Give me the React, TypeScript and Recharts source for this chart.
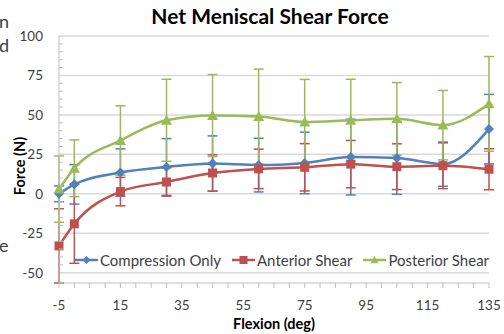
import React from "react";
import { ComposedChart, Line, XAxis, YAxis, CartesianGrid, ErrorBar } from "recharts";

// knee flexion angles (deg) and mean force (N) with SD
const flexion = [-5, 0, 15, 30, 45, 60, 75, 90, 105, 120, 135];
const compression = [0, 6, 13.5, 17, 19.2, 18.2, 19.6, 23.3, 22.7, 18.8, 41];
const compressionErr = [5, 12.5, 15, 18, 17.5, 17, 19.5, 24, 23, 14, 22];
const anterior = [-33, -19, 1.4, 7.5, 13.2, 15.8, 16.8, 18.8, 17.2, 17.8, 15.6];
const anteriorErr = [23.5, 25, 9, 9, 11.5, 12.5, 15, 15, 14.5, 14.5, 13];
const posterior = [3, 16.2, 33.8, 46.6, 49.6, 49, 45.5, 46.6, 47.5, 43.5, 57];
const posteriorErr = [21, 18, 22, 26, 26, 30, 27, 26, 23, 22, 30];

const xMajor = [-5, 15, 35, 55, 75, 95, 115, 135];
const yMajor = [-50, -25, 0, 25, 50, 75, 100];
const minorStep = 5;

const xMinor: number[] = [];
for (let v = xMajor[0]; v <= xMajor[xMajor.length - 1]; v += minorStep) xMinor.push(v);
const yMinor: number[] = [];
for (let v = yMajor[0]; v <= yMajor[yMajor.length - 1]; v += minorStep) yMinor.push(v);

const BLUE = "#4F81BD";
const RED = "#C0504D";
const GREEN = "#9BBB59";
const AXIS = "#bfbfbf";
const FONT = "Lato, 'Open Sans', sans-serif";

const data = flexion.map((x, i) => ({
  x,
  comp: compression[i],
  compErr: compressionErr[i],
  ant: anterior[i],
  antErr: anteriorErr[i],
  post: posterior[i],
  postErr: posteriorErr[i],
}));

const Diamond = ({ cx, cy, fill, size = 5 }: any) =>
  cx == null ? null : (
    <path d={`M${cx},${cy - size}L${cx + size},${cy}L${cx},${cy + size}L${cx - size},${cy}Z`} fill={fill} />
  );
const Square = ({ cx, cy, fill, size = 4.5 }: any) =>
  cx == null ? null : <rect x={cx - size} y={cy - size} width={size * 2} height={size * 2} fill={fill} />;
const Triangle = ({ cx, cy, fill, size = 5.5 }: any) =>
  cx == null ? null : (
    <path d={`M${cx},${cy - size}L${cx + size},${cy + size * 0.8}L${cx - size},${cy + size * 0.8}Z`} fill={fill} />
  );

const XTick = ({ x, y, payload }: any) =>
  xMajor.includes(payload.value) ? (
    <text x={x} y={y} dy="0.71em" textAnchor="middle" fontSize={13.5} fill="#404040" fontFamily={FONT}>
      {payload.value}
    </text>
  ) : (
    <g />
  );

const YTick = ({ x, y, payload }: any) =>
  yMajor.includes(payload.value) ? (
    <text x={x} y={y} dy="0.355em" textAnchor="end" fontSize={13.5} fill="#404040" fontFamily={FONT}>
      {payload.value}
    </text>
  ) : (
    <line x1={x + 16} x2={x + 20} y1={y} y2={y} stroke={AXIS} />
  );

const series = [
  { name: "Compression Only", color: BLUE, Marker: Diamond },
  { name: "Anterior Shear", color: RED, Marker: Square },
  { name: "Posterior Shear", color: GREEN, Marker: Triangle },
];

const App = () => (
  <div style={{ position: "absolute", left: 0, top: 0, width: 504, height: 334, background: "#fff", fontFamily: FONT }}>
    <ComposedChart width={504} height={334} data={data} margin={{ top: 36, right: 15, left: 0, bottom: 21 }}>
      <CartesianGrid vertical={false} horizontalValues={yMajor} stroke="#d9d9d9" strokeWidth={1.5} />
      <XAxis
        dataKey="x"
        type="number"
        domain={[xMajor[0], xMajor[xMajor.length - 1]]}
        ticks={xMinor}
        interval={0}
        height={30}
        stroke={AXIS}
        tickSize={5}
        tickMargin={12}
        tick={<XTick />}
      />
      <YAxis
        type="number"
        domain={[yMajor[0], yMajor[yMajor.length - 1]]}
        ticks={yMinor}
        interval={0}
        width={59}
        stroke={AXIS}
        tickLine={false}
        tickSize={0}
        tickMargin={16}
        tick={<YTick />}
      />
      <Line dataKey="comp" type="monotone" stroke={BLUE} strokeWidth={2.5} dot={<Diamond fill={BLUE} />} isAnimationActive={false}>
        <ErrorBar dataKey="compErr" direction="y" width={5} stroke={BLUE} strokeWidth={1.5} />
      </Line>
      <Line dataKey="ant" type="monotone" stroke={RED} strokeWidth={2.5} dot={<Square fill={RED} />} isAnimationActive={false}>
        <ErrorBar dataKey="antErr" direction="y" width={5} stroke={RED} strokeWidth={1.5} />
      </Line>
      <Line dataKey="post" type="monotone" stroke={GREEN} strokeWidth={2.5} dot={<Triangle fill={GREEN} />} isAnimationActive={false}>
        <ErrorBar dataKey="postErr" direction="y" width={5} stroke={GREEN} strokeWidth={1.5} />
      </Line>
    </ComposedChart>

    <div style={{ position: "absolute", left: 70, top: 3, width: 400, textAlign: "center", fontSize: 21, fontWeight: 700, color: "#000" }}>
      Net Meniscal Shear Force
    </div>
    <div
      style={{
        position: "absolute",
        left: 19,
        top: 166,
        transform: "translate(-50%, -50%) rotate(-90deg)",
        fontSize: 14.5,
        fontWeight: 700,
        whiteSpace: "nowrap",
      }}
    >
      Force (N)
    </div>
    <div style={{ position: "absolute", left: 174, top: 315, width: 200, textAlign: "center", fontSize: 14.5, fontWeight: 700 }}>
      Flexion (deg)
    </div>

    <div style={{ position: "absolute", left: 75, top: 251, display: "flex", gap: 11, fontSize: 15, color: "#404040", whiteSpace: "nowrap" }}>
      {series.map(({ name, color, Marker }) => (
        <div key={name} style={{ display: "flex", alignItems: "center", gap: 2 }}>
          <svg width={23} height={14}>
            <line x1={0} x2={23} y1={7} y2={7} stroke={color} strokeWidth={2.5} />
            <Marker cx={11.5} cy={7} fill={color} size={4} />
          </svg>
          <span>{name}</span>
        </div>
      ))}
    </div>

    <div style={{ position: "absolute", left: -1, top: 10, fontSize: 18, color: "#404040" }}>n</div>
    <div style={{ position: "absolute", left: -1, top: 34, fontSize: 18, color: "#404040" }}>d</div>
    <div style={{ position: "absolute", left: -1, top: 234, fontSize: 18, color: "#404040" }}>e</div>
  </div>
);

export default App;
